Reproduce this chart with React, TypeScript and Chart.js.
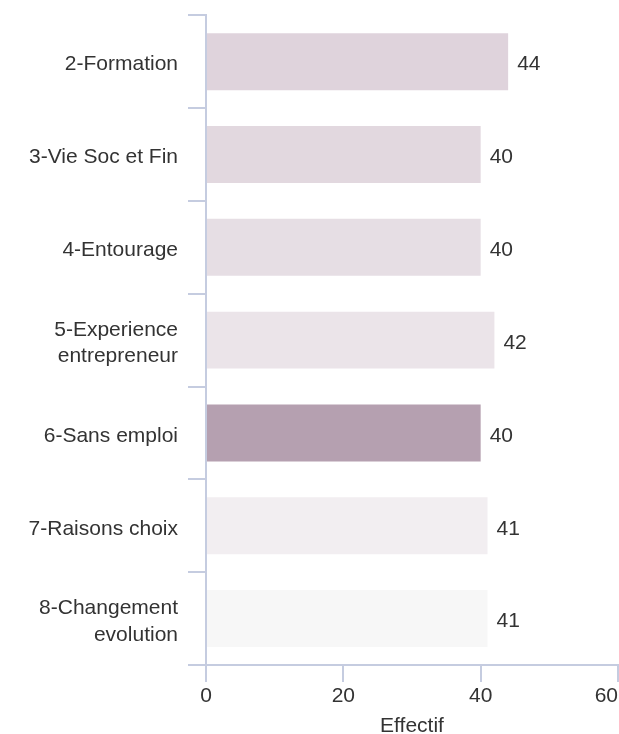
import React, { useEffect, useRef } from "react";
import { Chart, registerables } from "chart.js";

Chart.register(...registerables);

const categories: (string | string[])[] = [
  "2-Formation",
  "3-Vie Soc et Fin",
  "4-Entourage",
  ["5-Experience", "entrepreneur"],
  "6-Sans emploi",
  "7-Raisons choix",
  ["8-Changement", "evolution"],
];
const values: number[] = [44, 40, 40, 42, 40, 41, 41];
const barColors: string[] = [
  "#dfd3dc",
  "#e2d8df",
  "#e6dee4",
  "#ebe4e9",
  "#b5a0b0",
  "#f2eef1",
  "#f7f7f7",
];
const xTicks: number[] = [0, 20, 40, 60];
const xTitle = "Effectif";

const FONT = "'Liberation Sans', Arial, sans-serif";
const AXIS = "#c5cce0";
const TEXT = "#333333";
const VISIBLE_RIGHT = 618;

const valueLabels = {
  id: "valueLabels",
  afterDatasetsDraw(chart: any) {
    const ctx = chart.ctx;
    const meta = chart.getDatasetMeta(0);
    ctx.save();
    ctx.font = `21px ${FONT}`;
    ctx.fillStyle = TEXT;
    ctx.textAlign = "left";
    ctx.textBaseline = "middle";
    meta.data.forEach((el: any, i: number) => {
      ctx.fillText(String(values[i]), el.x + 9, el.y + 3);
    });
    ctx.restore();
  },
};

// Draw the last x tick label kept inside the visible page (justified, as in the reference)
const lastTickLabel = {
  id: "lastTickLabel",
  afterDraw(chart: any) {
    const scale = chart.scales.x;
    const items = scale.getLabelItems ? scale.getLabelItems(chart.chartArea) : scale._labelItems;
    if (!items || !items.length) return;
    const ref = items[0];
    const last = xTicks[xTicks.length - 1];
    const ctx = chart.ctx;
    ctx.save();
    ctx.font = `21px ${FONT}`;
    ctx.fillStyle = TEXT;
    const text = String(last);
    const w = ctx.measureText(text).width;
    const px = scale.getPixelForValue(last);
    const right = Math.min(px + w / 2, VISIBLE_RIGHT);
    ctx.textAlign = "right";
    ctx.textBaseline = ref.options.textBaseline;
    const y = ref.options.translation[1] + (ref.textOffset || 0);
    ctx.fillText(text, right, y);
    ctx.restore();
  },
};

export default function App() {
  const ref = useRef<HTMLCanvasElement>(null);
  useEffect(() => {
    if (!ref.current) return;
    const chart = new Chart(ref.current, {
      type: "bar",
      data: {
        labels: categories as any,
        datasets: [
          {
            data: values,
            backgroundColor: barColors,
            borderWidth: 0,
            barPercentage: 0.614,
            categoryPercentage: 1,
          },
        ],
      },
      options: {
        indexAxis: "y",
        animation: false,
        responsive: false,
        maintainAspectRatio: false,
        layout: { autoPadding: false, padding: { top: -6, right: -9, left: 0, bottom: 0 } },
        plugins: { legend: { display: false }, tooltip: { enabled: false } },
        scales: {
          y: {
            offset: true,
            grid: {
              drawOnChartArea: false,
              drawTicks: true,
              tickLength: 18,
              color: AXIS,
              lineWidth: 2,
              offset: true,
            },
            border: { display: true, color: AXIS, width: 2 },
            ticks: {
              padding: 10,
              labelOffset: 3,
              color: TEXT,
              font: { family: FONT, size: 21, lineHeight: 1.25 },
            },
            afterFit: (s: any) => {
              s.width = 206;
            },
          },
          x: {
            min: 0,
            max: 60,
            afterBuildTicks: (s: any) => {
              s.ticks = xTicks.map((v) => ({ value: v }));
            },
            grid: {
              drawOnChartArea: false,
              drawTicks: true,
              tickLength: 17,
              color: AXIS,
              lineWidth: 2,
            },
            border: { display: true, color: AXIS, width: 2 },
            ticks: {
              padding: 2,
              color: TEXT,
              maxRotation: 0,
              font: { family: FONT, size: 21 },
              callback: (v: any) => (v === xTicks[xTicks.length - 1] ? "" : String(v)),
            },
            title: {
              display: true,
              text: xTitle,
              color: TEXT,
              font: { family: FONT, size: 21 },
              padding: { top: 0, bottom: -5 },
            },
            afterFit: (s: any) => {
              s.height = 69;
            },
          },
        },
      },
      plugins: [valueLabels, lastTickLabel],
    });
    return () => chart.destroy();
  }, []);
  return (
    <div style={{ position: "fixed", left: 0, top: 0, width: 619, height: 734, overflow: "hidden", background: "#fff" }}>
      <canvas ref={ref} width={620} height={755} style={{ display: "block", marginTop: -21 }} />
    </div>
  );
}
